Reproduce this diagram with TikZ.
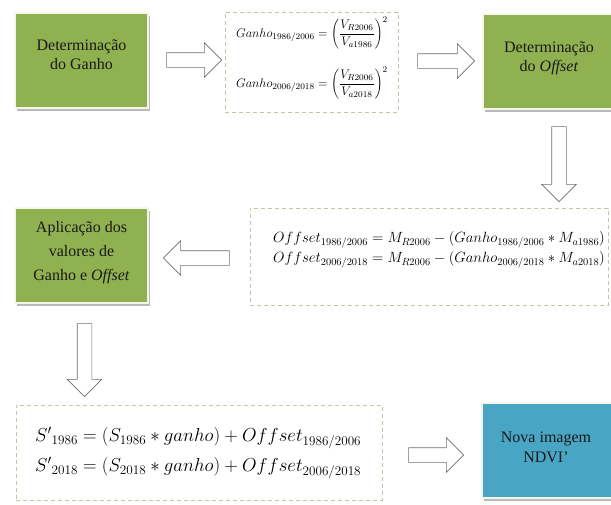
\RequirePackage{fix-cm}
\documentclass[tikz,border=0pt]{standalone}
\usepackage{fontspec}
\setmainfont{Liberation Serif}
\usetikzlibrary{shapes.arrows,shadows}
\definecolor{boxgreen}{RGB}{143,177,80}
\definecolor{boxblue}{RGB}{72,166,196}
\definecolor{dashcol}{RGB}{200,196,160}
\definecolor{arrowgray}{RGB}{110,110,110}
\definecolor{rimcol}{RGB}{246,246,234}
\begin{document}
\begin{tikzpicture}[x=1pt,y=-1pt,
  colbox/.style={rectangle, draw=rimcol, line width=2pt, inner sep=0pt,
    drop shadow={shadow xshift=1.5pt, shadow yshift=-3pt, fill=gray, opacity=0.55}},
  boxtext/.style={align=center, font=\rmfamily\fontsize{16}{19}\selectfont, text=black!90},
  dashbox/.style={rectangle, draw=dashcol, fill=white, dash pattern=on 4pt off 3pt, line width=0.8pt, inner sep=0pt},
  blockarrow/.style={single arrow, draw=arrowgray, fill=white, line width=0.6pt, inner sep=7pt,
    minimum width=34pt, single arrow head extend=10pt},
  formula/.style={inner sep=0pt}
]
\useasboundingbox (0,0) rectangle (611,504);
% coloured boxes
\node[colbox, fill=boxgreen, minimum width=133pt, minimum height=95pt] (b1) at (81.5,60.5) {};
\node[boxtext] (t1) at (81.5,55) {Determinação\\do Ganho};
\node[colbox, fill=boxgreen, minimum width=131pt, minimum height=95pt] (b2) at (548.5,61.5) {};
\node[boxtext] (t2) at (549,58) {Determinação\\do \textit{Offset}};
\node[colbox, fill=boxgreen, minimum width=133pt, minimum height=95pt] (b3) at (81.5,255.5) {};
\node[boxtext, font=\rmfamily\fontsize{16}{24}\selectfont] (t3) at (81.5,253) {Aplicação dos\\valores de\\Ganho e \textit{Offset}};
\node[colbox, fill=boxblue, minimum width=132pt, minimum height=95pt] (b4) at (548,450.5) {};
\node[boxtext, font=\rmfamily\fontsize{16}{20}\selectfont] (t4) at (546,447) {Nova imagem\\NDVI'};
% dashed formula boxes
\node[dashbox, minimum width=173pt, minimum height=100pt] (d1) at (311.5,62) {};
\node[formula, font=\fontsize{12.5}{14}\selectfont] (g1) at (312,33) {$\displaystyle Ganho_{1986/2006}=\left(\frac{V_{R2006}}{V_{a1986}}\right)^{2}$};
\node[formula, font=\fontsize{12.5}{14}\selectfont] (g2) at (312,83) {$\displaystyle Ganho_{2006/2018}=\left(\frac{V_{R2006}}{V_{a2018}}\right)^{2}$};
\node[dashbox, minimum width=358pt, minimum height=97pt] (d2) at (429,256.5) {};
\node[formula, anchor=west, font=\fontsize{14.8}{16}\selectfont] (o1) at (273,240) {$Offset_{1986/2006}=M_{R2006}-(Ganho_{1986/2006}*M_{a1986})$};
\node[formula, anchor=west, font=\fontsize{14.8}{16}\selectfont] (o2) at (273,260) {$Offset_{2006/2018}=M_{R2006}-(Ganho_{2006/2018}*M_{a2018})$};
\node[dashbox, minimum width=366pt, minimum height=95pt] (d3) at (199,452.5) {};
\node[formula, anchor=west, font=\fontsize{18.8}{20}\selectfont] (s1) at (35,438) {${S'}_{1986}=(S_{1986}*ganho)+Offset_{1986/2006}$};
\node[formula, anchor=west, font=\fontsize{18.8}{20}\selectfont] (s2) at (35,468) {${S'}_{2018}=(S_{2018}*ganho)+Offset_{2006/2018}$};
% block arrows
\node[blockarrow, minimum height=55pt] (a1) at (190.5,60) {};
\node[blockarrow, minimum height=57pt] (a2) at (442.5,61) {};
\node[blockarrow, minimum height=75pt, rotate=-90] (a3) at (559,160.5) {};
\node[blockarrow, minimum height=66pt, rotate=180] (a4) at (200,258) {};
\node[blockarrow, minimum height=73pt, rotate=-90] (a5) at (84.5,356.5) {};
\node[blockarrow, minimum height=55pt] (a6) at (432.5,455) {};
\end{tikzpicture}
\end{document}
